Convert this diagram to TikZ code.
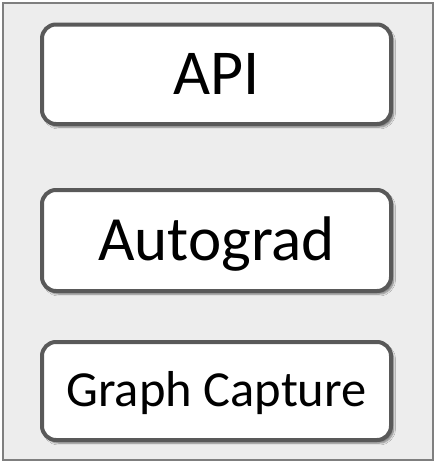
\documentclass[tikz,border=0pt]{standalone}
\usepackage{fontspec}
\setmainfont{Carlito}
\usetikzlibrary{shadows.blur}
\definecolor{panelfill}{HTML}{EDEDED}
\definecolor{panelline}{HTML}{7F7F7F}
\definecolor{boxline}{HTML}{595959}
\begin{document}
\begin{tikzpicture}[x=1pt,y=-1pt,
  layerbox/.style={draw=boxline, fill=white, line width=4pt, rounded corners=14pt,
    blur shadow={shadow xshift=2.5pt, shadow yshift=-3pt, shadow blur steps=6,
      shadow blur extra rounding=2pt, shadow opacity=50},
    minimum width=349pt, inner sep=0pt, text depth=0pt}]
  \useasboundingbox (0,0) rectangle (436,464);
  % outer panel
  \draw[fill=panelfill, draw=panelline, line width=2pt] (2.5,2.5) rectangle (433,459.5);
  % stacked layers
  \node[layerbox, minimum height=99.5pt, text height=40pt,
        font=\fontsize{64}{70}\selectfont] (api) at (216.5,74.25) {API};
  \node[layerbox, minimum height=101pt, text height=39pt,
        font=\fontsize{63}{70}\selectfont] (autograd) at (216.5,240.5) {Autograd};
  \node[layerbox, minimum height=98pt, text height=31.5pt,
        font=\fontsize{50.5}{56}\selectfont] (capture) at (216.5,391) {Graph Capture};
\end{tikzpicture}
\end{document}
